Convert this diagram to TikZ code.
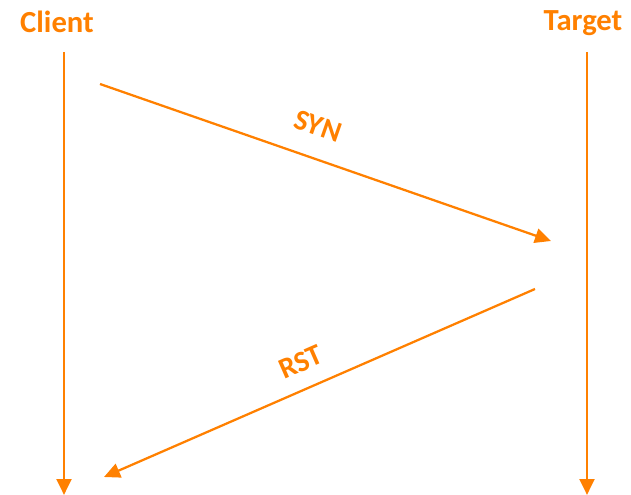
\documentclass[tikz,border=0pt]{standalone}
\usepackage{fontspec}
\setmainfont{Carlito}
\usetikzlibrary{arrows.meta, positioning, calc}
\definecolor{tcporange}{RGB}{255,128,0}

\begin{document}
\begin{tikzpicture}[
    x=0.75pt, y=-0.75pt,
    >={Triangle[length=12pt, width=11pt]},
    actor/.style={font=\bfseries\fontsize{23}{26}\selectfont, text=tcporange, inner sep=0pt},
    lifeline/.style={->, line width=2.2pt, draw=tcporange},
    message/.style={->, line width=1.7pt, draw=tcporange},
    flag/.style={font=\bfseries\fontsize{22}{25}\selectfont, text=tcporange, inner sep=0pt}
]
\useasboundingbox (0,0) rectangle (631,495);
\node[actor] (client) at (57,22) {Client};
\node[actor] (target) at (583,23) {Target};
% lifelines
\coordinate (clienttop) at (64,52);
\coordinate (clientend) at (64,495);
\coordinate (targettop) at (587,52);
\coordinate (targetend) at (587,495);
\draw[lifeline] (clienttop) -- (clientend);
\draw[lifeline] (targettop) -- (targetend);
% handshake
\coordinate (synstart) at (100,84);
\coordinate (synend) at (551,241);
\coordinate (rststart) at (535,289);
\coordinate (rstend) at (104,477);
\draw[message] (synstart) -- (synend);
\draw[message] (rststart) -- (rstend);
\node[flag, rotate=-19.2] (syn) at (318,126) {SYN};
\node[flag, rotate=23.6] (rst) at (301,362) {RST};
\end{tikzpicture}
\end{document}
